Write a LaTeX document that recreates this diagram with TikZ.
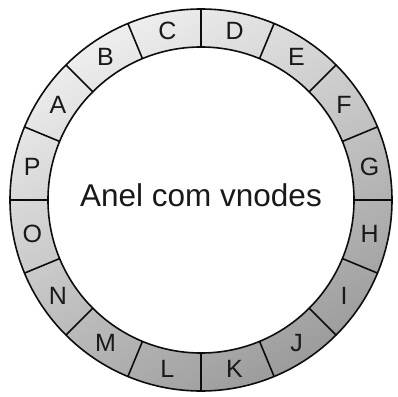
\documentclass[tikz,border=0pt]{standalone}
\usepackage{fontspec}
\setmainfont{Liberation Sans}
\definecolor{ringlight}{HTML}{EEEEEE}
\definecolor{ringdark}{HTML}{9C9C9C}
\begin{document}
\begin{tikzpicture}[x=1pt,y=1pt,
  lbl/.style={font=\fontsize{25}{25}\selectfont, text=black!90, inner sep=0pt},
  ringline/.style={draw=black!95, line width=1.6pt}]
\useasboundingbox (-201,-196) rectangle (197,200);
\def\Ro{191}
\def\Ri{153}
% shaded ring
\shade[even odd rule, top color=ringlight, bottom color=ringdark, shading angle=30]
  (0,0) circle (\Ro) (0,0) circle (\Ri);
% circles
\draw[ringline] (0,0) circle (\Ro);
\draw[ringline] (0,0) circle (\Ri);
% dividers
\foreach \k in {0,...,15}{
  \draw[ringline] (\k*22.5:\Ri) -- (\k*22.5:\Ro);
}
% labels
\foreach \l [count=\i from 0] in {A,B,C,D,E,F,G,H,I,J,K,L,M,N,O,P}{
  \node[lbl] (seg\l) at ({146.25-22.5*\i}:172) {\l};
}
\node[font=\fontsize{31.5}{31.5}\selectfont, text=black!90, anchor=base] (title) at (0,-6) {Anel com vnodes};
\end{tikzpicture}
\end{document}
